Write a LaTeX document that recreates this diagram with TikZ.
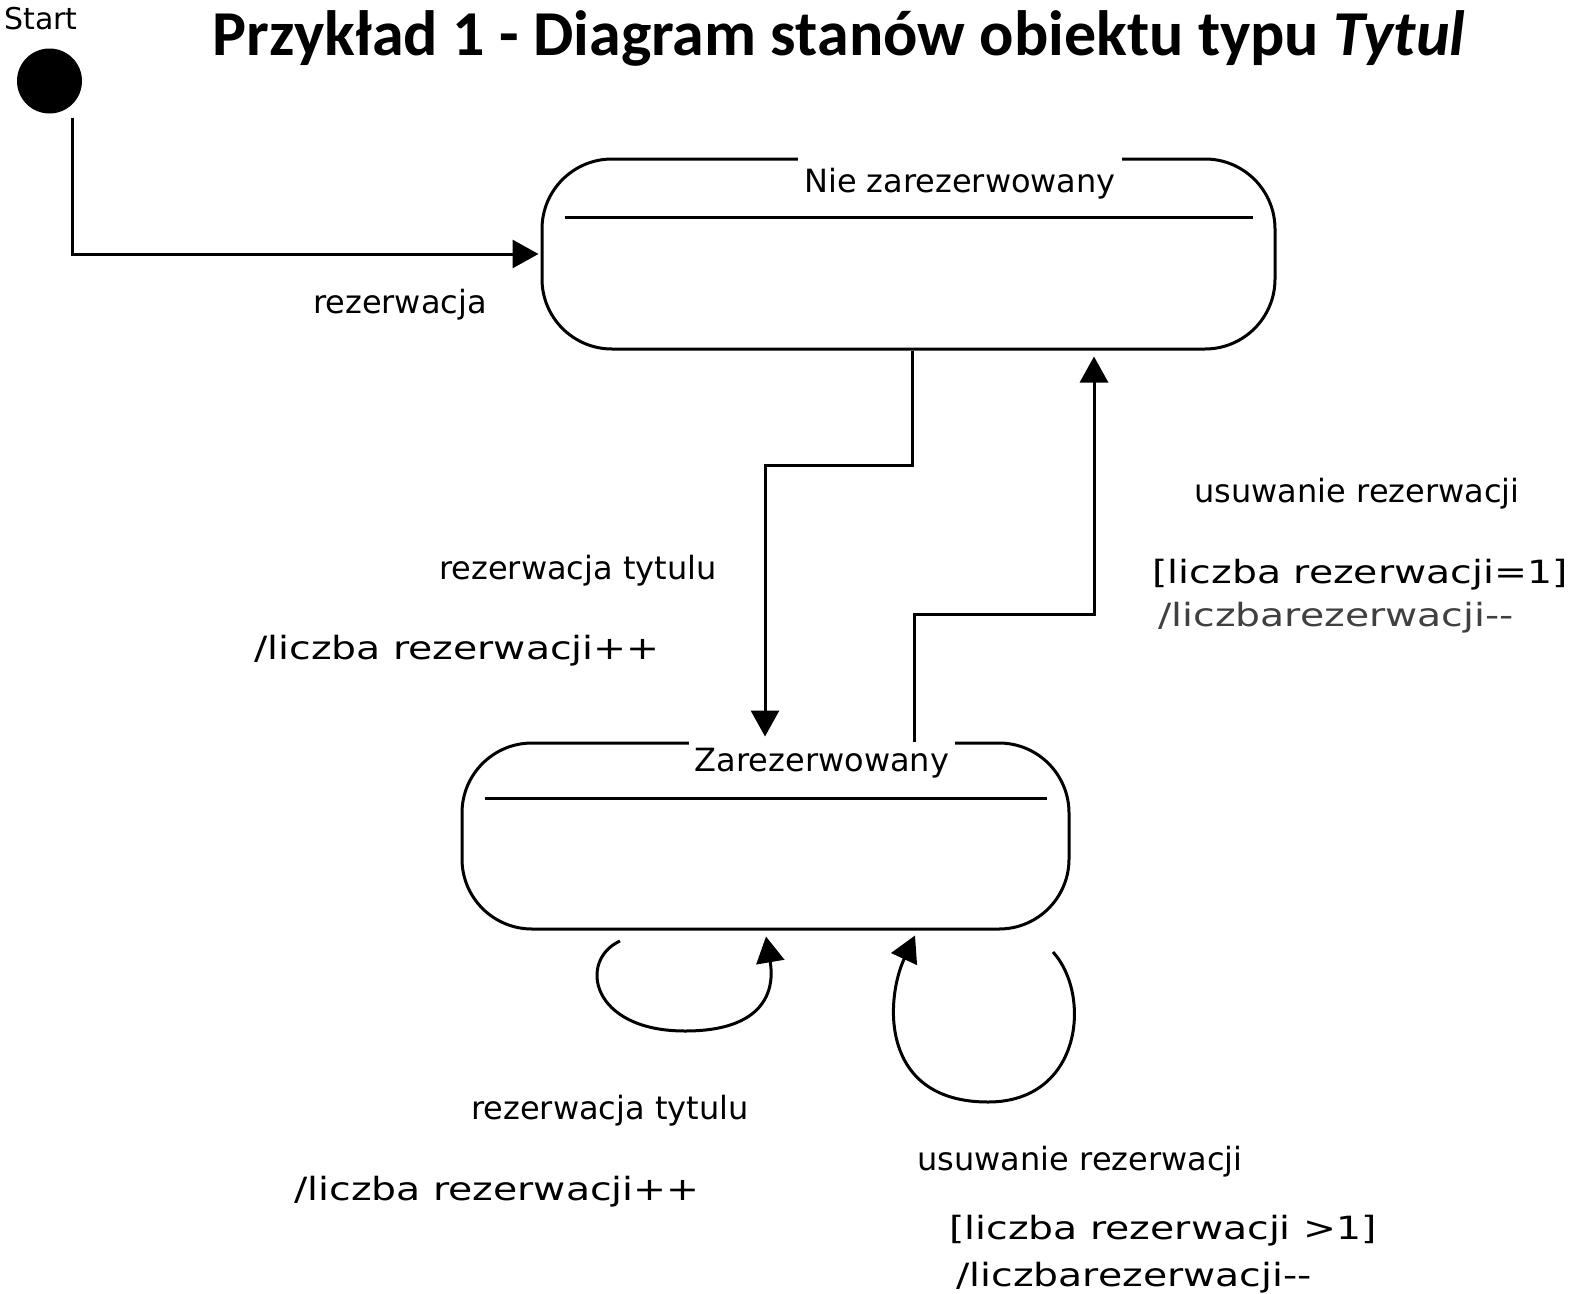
\documentclass[tikz,border=0pt]{standalone}
\usepackage{fontspec}
\setmainfont{DejaVu Sans}
\newfontfamily\titlefont{Carlito}
\usetikzlibrary{arrows.meta,calc}
\newcommand\widetxt[1]{\scalebox{1.23}[1]{#1}}
\begin{document}
\begin{tikzpicture}[x=1pt,y=-1pt,
  lbl/.style={font=\fontsize{32}{36}\selectfont, inner sep=0pt, yshift=-4pt},
  state/.style={draw, line width=3pt, rounded corners=70pt, inner sep=0pt},
  sname/.style={fill=white, inner xsep=6pt, inner ysep=0pt, minimum height=58pt, font=\fontsize{32}{36}\selectfont},
  trans/.style={line width=3pt, -{Triangle[length=26pt,width=28pt]}},
  divider/.style={line width=3pt}
  ]
\useasboundingbox (0,0) rectangle (1574,1293);

% title
\node[font=\titlefont\bfseries\fontsize{64}{70}\selectfont, anchor=base, inner sep=0pt] (title) at (839,55) {Przykład 1 - Diagram stanów obiektu typu \textit{Tytul}};

% initial state
\node[circle, fill, minimum size=65pt, inner sep=0pt] (init) at (49.5,81) {};
\node[font=\fontsize{30}{34}\selectfont, anchor=west, inner sep=0pt] (start) at (4,19) {Start};

% states
\node[state, minimum width=733pt, minimum height=190pt] (ns) at (908.5,254) {};
\draw[divider] ([xshift=24pt,yshift=37pt]ns.west) -- ([xshift=-24pt,yshift=37pt]ns.east);
\node[sname] (nst) at (960,184) {Nie zarezerwowany};

\node[state, minimum width=607pt, minimum height=186pt] (zs) at (765.5,836) {};
\draw[divider] ([xshift=24pt,yshift=38pt]zs.west) -- ([xshift=-24pt,yshift=38pt]zs.east);
\node[sname] (zst) at (822,763) {Zarezerwowany};

% initial transition
\draw[trans, shorten >=2pt] ([xshift=22.5pt,yshift=-4pt]init.south) |- (ns.west);
\node[lbl] (l0) at (400,301) {rezerwacja};

% Nie zarezerwowany -> Zarezerwowany
\coordinate (k0) at (912,465);
\coordinate (k1) at (765,465);
\draw[trans, shorten >=5pt] (ns.south -| k0) |- (k1) -- (zs.north -| k1);
\node[lbl] (l1a) at (578,567) {rezerwacja tytulu};
\node[lbl] (l1b) at (457,647) {\widetxt{/liczba rezerwacji++}};

% Zarezerwowany -> Nie zarezerwowany
\coordinate (k2) at (914,614);
\coordinate (k3) at (1094,614);
\draw[trans, shorten >=6pt] (zs.north -| k2) |- (k3) -- (ns.south -| k3);
\node[lbl] (l2a) at (1357,490) {usuwanie rezerwacji};
\node[lbl] (l2b) at (1360,571) {\widetxt{[liczba rezerwacji=1]}};
\node[lbl, text=black!75] (l2c) at (1336,614) {\widetxt{/liczbarezerwacji{-}{-}}};

% self loop 1
\coordinate (l1s) at (620,941);
\coordinate (l1x) at (766,0);
\draw[trans] (l1s) .. controls (578,960) and (590,1031) .. (685,1031)
  .. controls (765,1031) and (775,990) .. ($(zs.south -| l1x)+(0,6)$);
\node[lbl] (l3a) at (610,1107) {rezerwacja tytulu};
\node[lbl] (l3b) at (497,1188) {\widetxt{/liczba rezerwacji++}};

% self loop 2
\coordinate (l2s) at (1053,952);
\coordinate (l2x) at (915,0);
\draw[trans] (l2s) .. controls (1092,995) and (1082,1102) .. (988,1102)
  .. controls (880,1102) and (885,1000) .. ($(zs.south -| l2x)+(0,5)$);
\node[lbl] (l4a) at (1080,1158) {usuwanie rezerwacji};
\node[lbl] (l4b) at (1163,1227) {\widetxt{[liczba rezerwacji >1]}};
\node[lbl] (l4c) at (1134,1274) {\widetxt{/liczbarezerwacji{-}{-}}};
\end{tikzpicture}
\end{document}
